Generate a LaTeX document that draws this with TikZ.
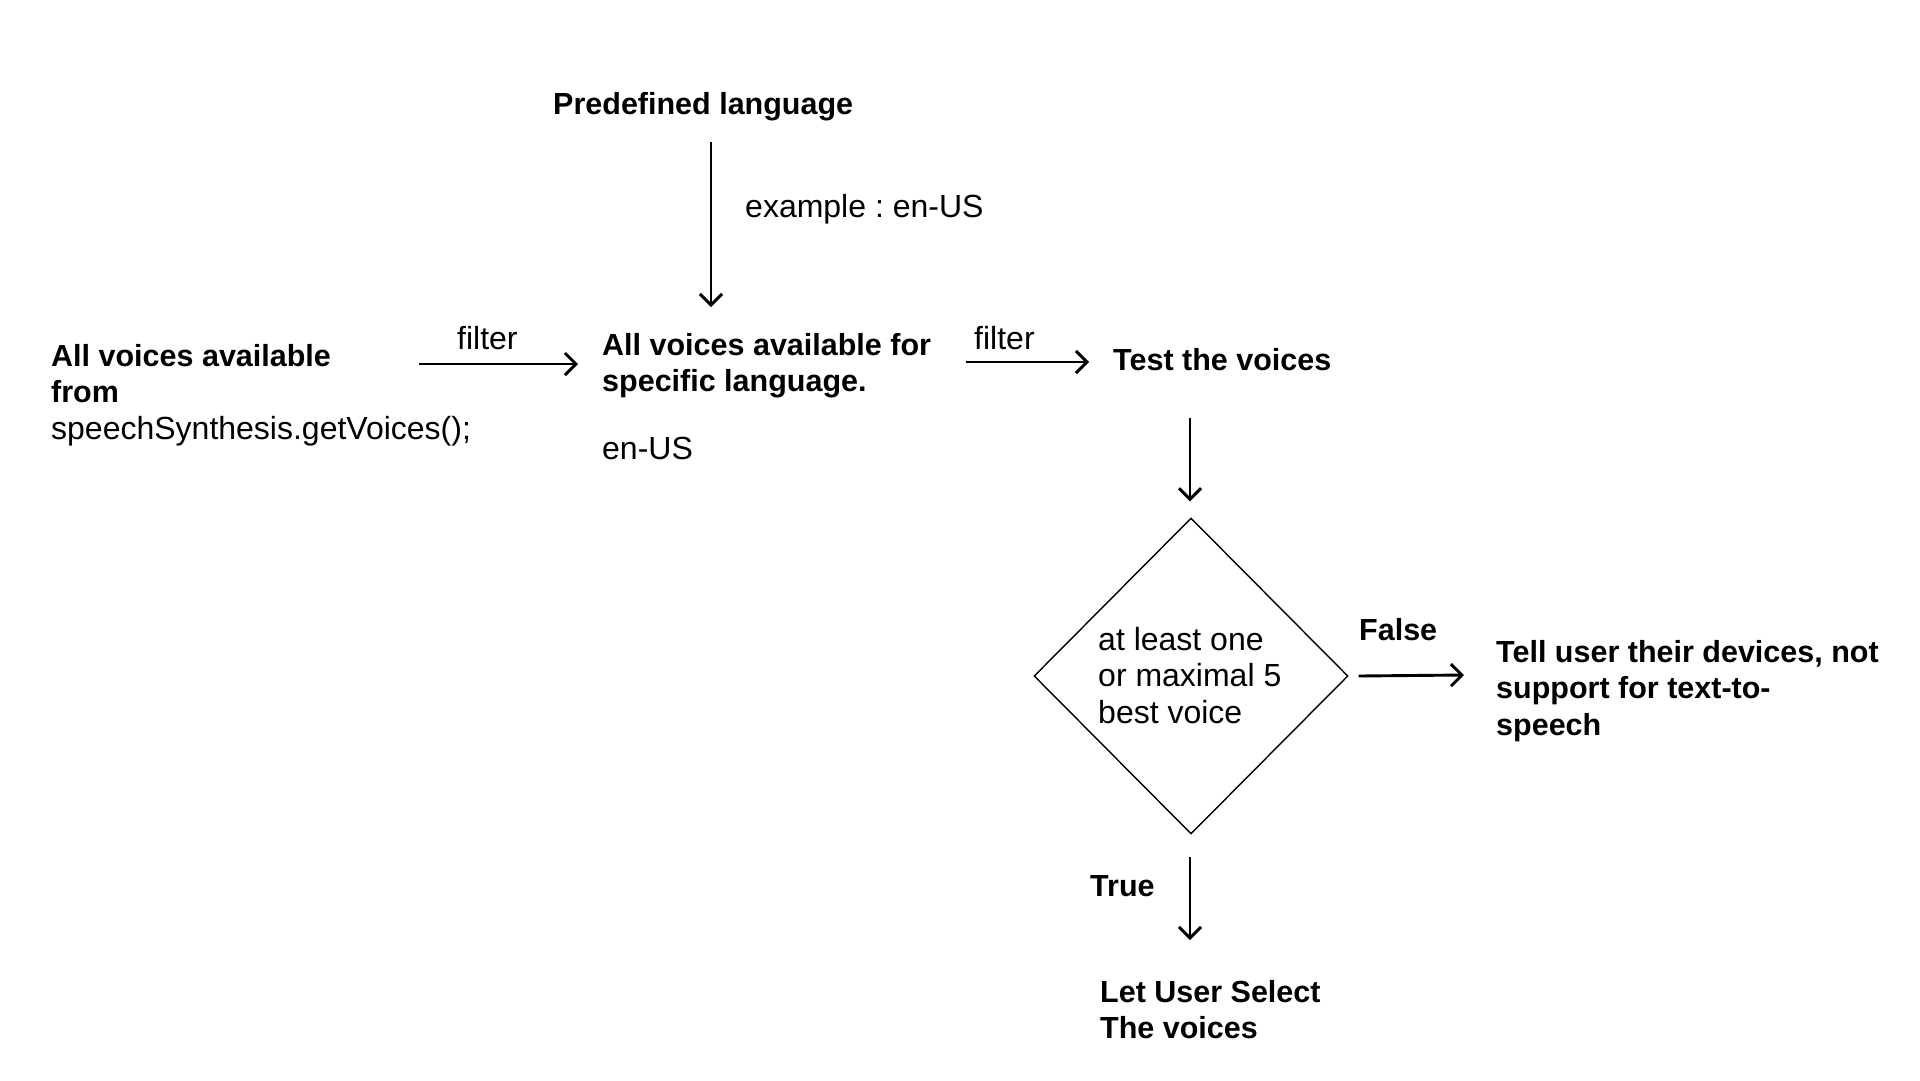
\documentclass[tikz,border=0pt]{standalone}
\usepackage{fontspec}
\setmainfont{Liberation Sans}
\usetikzlibrary{arrows.meta,shapes.geometric}
\frenchspacing
\newcommand{\bfs}{\fontsize{30.5}{36.5}\selectfont\bfseries}
\newcommand{\rgs}{\fontsize{32}{36.5}\selectfont\mdseries}
\tikzset{
  lbl/.style={anchor=base west, inner sep=0pt, align=left, font=\rgs},
  bld/.style={anchor=base west, inner sep=0pt, align=left, font=\bfs},
  arr/.style={line width=2.9pt, -{Straight Barb[length=11pt,width=22pt]}},
  decision/.style={shape=diamond, draw, line width=1.4pt, minimum width=314pt,
    minimum height=316pt, inner sep=0pt, aspect=1},
}
\begin{document}
\begin{tikzpicture}[x=1pt,y=-1pt]
\useasboundingbox[fill=white] (0,0) rectangle (1920,1080);
% nodes (base anchor = baseline of the last line)
\node[bld] (pre) at (553,114) {Predefined language};
\node[lbl] (ex) at (745,217) {example : en-US};
\node[lbl] (all) at (51,439) {{\bfs All voices available}\\{\bfs from}\\{\rgs speechSynthesis.getVoices();}};
\node[bld] (mid) at (602,391.5) {All voices available for\\specific language.};
\node[lbl] (enus) at (602,459) {en-US};
\node[lbl] (f1) at (457,349) {filter};
\node[lbl] (f2) at (974,349) {filter};
\node[bld] (test) at (1113,370) {Test the voices};
\node[decision] (dia) at (1191,676) {};
\node[lbl] (dtext) at (1098,723) {at least one\\or maximal 5\\best voice};
\node[bld] (false) at (1359,640) {False};
\node[bld] (tell) at (1496,735) {Tell user their devices, not\\support for text-to-\\speech};
\node[bld] (true) at (1090,896) {True};
\node[bld] (let) at (1100,1038.5) {Let User Select\\The voices};
% connector ends
\coordinate (v1s) at (711,142);
\coordinate (v1e) at (711,307);
\coordinate (a1s) at (419,364);
\coordinate (a1e) at (578,364);
\coordinate (a2s) at (966,362);
\coordinate (a2e) at (1089,362);
\coordinate (a3s) at (1190,418);
\coordinate (a4e) at (1464,675);
\coordinate (a5e) at (1190,940);
% connectors
\draw[arr] (v1s) -- (v1e);
\draw[arr] (a1s) -- (a1e);
\draw[arr] (a2s) -- (a2e);
\draw[arr] (a3s) -- ([yshift=16pt]dia.north -| a3s);
\draw[arr] ([xshift=10pt]dia.east) -- (a4e);
\draw[arr] ([yshift=-22pt]dia.south -| a5e) -- (a5e);
\end{tikzpicture}
\end{document}
